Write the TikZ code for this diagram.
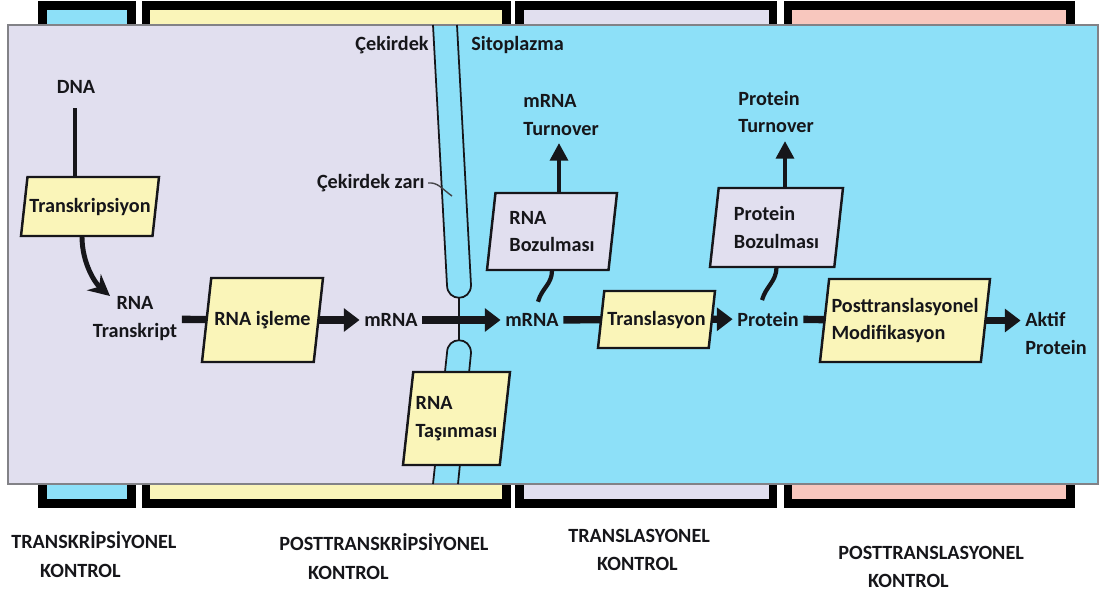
\documentclass[tikz,border=0pt]{standalone}
\usepackage{fontspec}
\setmainfont{Carlito}
\usetikzlibrary{arrows.meta,calc}
\definecolor{lav}{RGB}{225,223,239}
\definecolor{cyanbg}{RGB}{141,224,248}
\definecolor{pyellow}{RGB}{250,245,185}
\definecolor{ppink}{RGB}{248,199,190}
\definecolor{ink}{RGB}{22,22,26}
\definecolor{panelgray}{RGB}{130,130,135}
% parallelogram box: name, cx, cy, width, height, fill, text
\newcommand\pgmbox[7]{%
  \filldraw[boxline, fill=#6] ({#2-#4/2+0.11*#5},{#3-#5/2}) -- ({#2+#4/2},{#3-#5/2})
    -- ({#2+#4/2-0.11*#5},{#3+#5/2}) -- ({#2-#4/2},{#3+#5/2}) -- cycle;
  \node[boxtext, minimum width={(#4-0.11*#5)*0.02cm}, minimum height={#5*0.02cm}] (#1) at (#2,#3) {#7};
}
\begin{document}
\begin{tikzpicture}[x=0.02cm,y=-0.02cm,
  every node/.style={font=\bfseries\fontsize{11.5}{15.9}\selectfont, text=ink},
  lbl/.style={inner sep=2.5pt},
  tlbl/.style={inner sep=0pt, anchor=west, align=left},
  klbl/.style={inner sep=0pt, anchor=west, align=left, font=\bfseries\fontsize{11.5}{16.4}\selectfont},
  boxline/.style={draw=ink, line width=1.4pt, line join=miter},
  boxtext/.style={rectangle, inner sep=0pt, align=left},
  bandframe/.style={draw=black, line width=4.8pt},
  tube/.style={draw=ink, line width=1pt},
  flow/.style={draw=ink, line width=4.2pt},
  flowarrow/.style={flow, -{Triangle[length=9pt,width=13pt]}},
  uparrow/.style={draw=ink, line width=2.4pt, -{Triangle[length=10pt,width=10pt]}},
  thinflow/.style={draw=ink, line width=2.4pt},
  dnaline/.style={draw=ink, line width=1.8pt},
  tcurve/.style={draw=ink, line width=2.8pt, -{Stealth[length=12pt,width=12pt]}}
]
\useasboundingbox (0,0) rectangle (1103,592);
\fill[white] (0,0) rectangle (1103,592);

% control bands
\filldraw[bandframe, fill=cyanbg] (42.5,5.5) rectangle (131.5,503.5);
\filldraw[bandframe, fill=pyellow] (146,5.5) rectangle (506.5,503.5);
\filldraw[bandframe, fill=lav] (519.5,5.5) rectangle (773,503.5);
\filldraw[bandframe, fill=ppink] (788,5.5) rectangle (1070.5,503.5);

% main panel
\fill[cyanbg] (8,25) rectangle (1098,484);
\fill[lav] (8,25) -- (433,25) -- (447,285) .. controls (447,293.5) and (453,297.75) .. (459,297.75)
  -- (459,340.25) .. controls (453,340.25) and (447,344.5) .. (447,353) -- (433,484) -- (8,484) -- cycle;
\draw[panelgray, line width=0.9pt] (8,25) rectangle (1098,484);

% nuclear envelope
\draw[tube] (433,25) -- (447,285) .. controls (447,302) and (471,302) .. (471,285) -- (457,25);
\draw[tube] (433,484) -- (447,353) .. controls (447,336) and (471,336) .. (471,353) -- (458,484);
\draw[tube] (459,297.75) -- (459,340.25);

% labels
\node[anchor=east, inner sep=0pt] (cek) at (429,45) {Çekirdek};
\node[anchor=west, inner sep=0pt] (sito) at (471,45) {Sitoplazma};
\node[anchor=east, inner sep=0pt] (zari) at (425,183) {Çekirdek zarı};
\coordinate (zarip) at (452,196);
\draw[draw=ink!80, line width=0.8pt] ($(zari.east)+(3,0)$) .. controls +(10,-1) and +(-10,-7) .. (zarip);

\node[lbl] (dna) at (76,87) {DNA};
\node[lbl, align=center] (rnat) at (135,319) {RNA\\Transkript};
\node[lbl] (mrna1) at (391,320) {mRNA};
\node[lbl] (mrna2) at (532,320) {mRNA};
\node[lbl] (prot) at (768,319) {Protein};
\node[tlbl] (aktif) at (1025,333) {Aktif\\Protein};
\node[tlbl] (mturn) at (523,115) {mRNA\\Turnover};
\node[tlbl] (pturn) at (738,112) {Protein\\Turnover};

% boxes
\pgmbox{trans}{90}{206.5}{138}{59}{pyellow}{Transkripsiyon}
\pgmbox{isleme}{262.5}{320}{121}{84}{pyellow}{RNA işleme}
\pgmbox{tasin}{456.5}{418.5}{107}{93}{pyellow}{RNA\\Taşınması}
\pgmbox{rboz}{552}{231.5}{130}{77}{lav}{RNA\\Bozulması}
\pgmbox{transl}{656.5}{319.5}{117}{57}{pyellow}{Translasyon}
\pgmbox{pboz}{776.5}{227.5}{133}{79}{lav}{Protein\\Bozulması}
\pgmbox{ptm}{905}{320.5}{170}{83}{pyellow}{Posttranslasyonel\\Modifikasyon}

% connectors
\coordinate (dnab) at ($(dna.south)+(-1,10)$);
\draw[dnaline] (dnab) -- (dnab |- trans.north);
\coordinate (ttip) at (110,296);
\draw[tcurve] ($(trans.south)+(-8,0)$) .. controls +(0,28) and +(-14,-12) .. (ttip);
\draw[flow] (rnat) -- (isleme);
\draw[flowarrow] (isleme) -- (mrna1);
\draw[flowarrow] (mrna1) -- (mrna2);
\draw[flow] (mrna2) -- (transl);
\draw[flowarrow] (transl) -- (prot);
\draw[flow] (prot) -- (ptm);
\draw[flowarrow, shorten >=2.5pt] (ptm.east) -- (ptm.east -| aktif.west);
\draw[thinflow] ($(mrna2.north)+(6,-7)$) .. controls +(4,-14) and +(0,14) .. (rboz.south);
\draw[thinflow] ($(prot.north)+(-6,-7)$) .. controls +(4,-14) and +(0,14) .. (pboz.south);
\coordinate (mtip) at (559,143);
\coordinate (ptip) at (785,141);
\draw[uparrow] (rboz.north -| mtip) -- (mtip);
\draw[uparrow] (pboz.north -| ptip) -- (ptip);

% bottom labels
\node[klbl] (k1) at (11,555) {TRANSKRİPSİYONEL\\\hspace*{16.4pt}KONTROL};
\node[klbl] (k2) at (279,557) {POSTTRANSKRİPSİYONEL\\\hspace*{16.4pt}KONTROL};
\node[klbl] (k3) at (568,550) {TRANSLASYONEL\\\hspace*{16.4pt}KONTROL};
\node[klbl] (k4) at (838,567) {POSTTRANSLASYONEL\\\hspace*{17pt}KONTROL};
\end{tikzpicture}
\end{document}
